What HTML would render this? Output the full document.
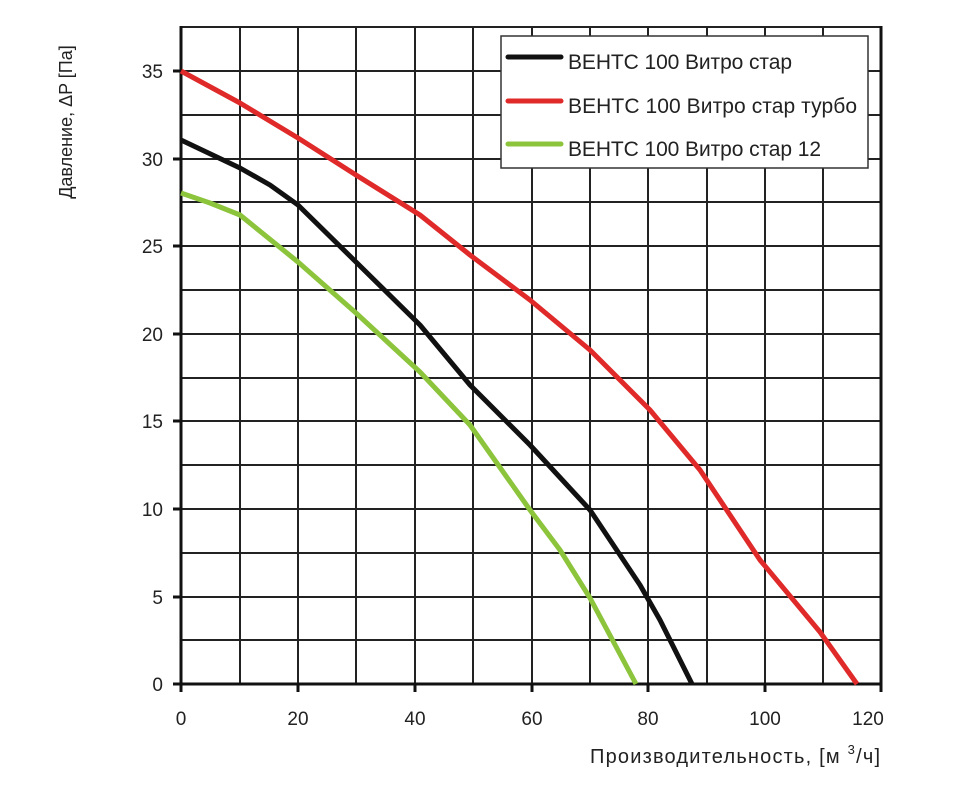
<!DOCTYPE html>
<html><head><meta charset="utf-8"><style>body{margin:0;background:#fff}</style></head><body>
<svg width="968" height="792" xmlns="http://www.w3.org/2000/svg" font-family="Liberation Sans, sans-serif">
<g stroke="#222" stroke-width="2">
<line x1="240" y1="27" x2="240" y2="684"/><line x1="298" y1="27" x2="298" y2="684"/><line x1="356" y1="27" x2="356" y2="684"/><line x1="415" y1="27" x2="415" y2="684"/><line x1="473" y1="27" x2="473" y2="684"/><line x1="532" y1="27" x2="532" y2="684"/><line x1="590" y1="27" x2="590" y2="684"/><line x1="648" y1="27" x2="648" y2="684"/><line x1="707" y1="27" x2="707" y2="684"/><line x1="765" y1="27" x2="765" y2="684"/><line x1="823" y1="27" x2="823" y2="684"/>
<line x1="181" y1="640" x2="881" y2="640"/><line x1="181" y1="597" x2="881" y2="597"/><line x1="181" y1="553" x2="881" y2="553"/><line x1="181" y1="509" x2="881" y2="509"/><line x1="181" y1="465" x2="881" y2="465"/><line x1="181" y1="421" x2="881" y2="421"/><line x1="181" y1="378" x2="881" y2="378"/><line x1="181" y1="334" x2="881" y2="334"/><line x1="181" y1="290" x2="881" y2="290"/><line x1="181" y1="246" x2="881" y2="246"/><line x1="181" y1="202" x2="881" y2="202"/><line x1="181" y1="159" x2="881" y2="159"/><line x1="181" y1="115" x2="881" y2="115"/><line x1="181" y1="71" x2="881" y2="71"/>
<line x1="181" y1="27" x2="881" y2="27"/>
</g>
<g stroke="#111" stroke-width="3">
<line x1="181" y1="26" x2="181" y2="686"/><line x1="180" y1="684" x2="881" y2="684"/><line x1="881" y1="26" x2="881" y2="692"/>
<line x1="181" y1="684" x2="181" y2="692"/><line x1="298" y1="684" x2="298" y2="692"/><line x1="415" y1="684" x2="415" y2="692"/><line x1="532" y1="684" x2="532" y2="692"/><line x1="648" y1="684" x2="648" y2="692"/><line x1="765" y1="684" x2="765" y2="692"/>
<line x1="173" y1="684" x2="181" y2="684"/><line x1="173" y1="597" x2="181" y2="597"/><line x1="173" y1="509" x2="181" y2="509"/><line x1="173" y1="421" x2="181" y2="421"/><line x1="173" y1="334" x2="181" y2="334"/><line x1="173" y1="246" x2="181" y2="246"/><line x1="173" y1="159" x2="181" y2="159"/><line x1="173" y1="71" x2="181" y2="71"/>
</g>
<g fill="none" stroke-width="5" stroke-linejoin="round">
<polyline stroke="#e02a2a" points="181,71 240,103 298,138 356,175 420,215 470,255 530,300 590,350 650,410 700,470 760,560 820,632 857,684"/>
<polyline stroke="#111" points="181,140 240,168 270,185 298,205 356,262 420,325 470,385 530,445 590,510 640,585 660,620 692,684"/>
<polyline stroke="#8cc43c" points="181,193 210,203 240,215 298,262 356,313 420,372 470,425 530,510 560,550 590,598 636,684"/>
</g>
<rect x="501" y="36" width="367" height="132" fill="#fff" stroke="#333" stroke-width="1.5"/>
<g stroke-width="5" stroke-linecap="round"><line x1="508" y1="57" x2="561" y2="57" stroke="#111"/><line x1="508" y1="101" x2="561" y2="101" stroke="#e02a2a"/><line x1="508" y1="144" x2="561" y2="144" stroke="#8cc43c"/></g>
<g font-size="21" fill="#222"><text x="568" y="69" textLength="224">ВЕНТС 100 Витро стар</text><text x="568" y="113" textLength="289">ВЕНТС 100 Витро стар турбо</text><text x="568" y="156" textLength="253">ВЕНТС 100 Витро стар 12</text></g>
<g font-size="19" fill="#222" text-anchor="end"><text x="163" y="691">0</text><text x="163" y="604">5</text><text x="163" y="516">10</text><text x="163" y="428">15</text><text x="163" y="341">20</text><text x="163" y="253">25</text><text x="163" y="166">30</text><text x="163" y="78">35</text></g>
<g font-size="19" fill="#222" text-anchor="middle"><text x="181" y="725">0</text><text x="298" y="725">20</text><text x="415" y="725">40</text><text x="532" y="725">60</text><text x="648" y="725">80</text><text x="765" y="725">100</text><text x="868" y="725">120</text></g>
<text x="590" y="763" font-size="20" fill="#222" textLength="290">Производительность, [м <tspan dy="-9" font-size="13">3</tspan><tspan dy="9">/ч]</tspan></text>
<text transform="translate(72,122) rotate(-90)" font-size="18" fill="#222" text-anchor="middle">Давление, ΔP [Па]</text>
</svg>
</body></html>
